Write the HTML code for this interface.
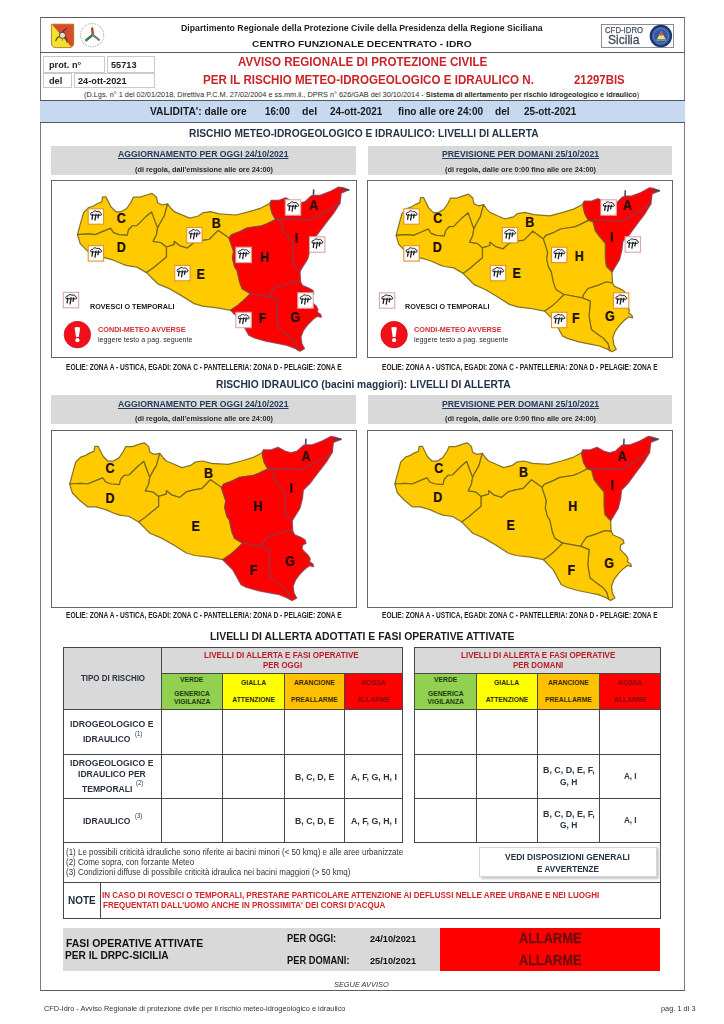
<!DOCTYPE html>
<html><head><meta charset="utf-8"><style>
html,body{margin:0;padding:0;background:#fff;}
body{width:724px;height:1024px;position:relative;overflow:hidden;font-family:"Liberation Sans",sans-serif;}
.a{position:absolute;}
.t{position:absolute;white-space:pre;transform-origin:0 0;}
</style></head><body>
<div class="a" style="left:40.00px;top:17.00px;width:645.00px;height:974.00px;border:1px solid #5c5c5c;box-sizing:border-box;border-left-color:#7a7a7a;border-right-color:#7a7a7a;"></div>
<div class="a" style="left:40.00px;top:52.00px;width:645.00px;height:1.00px;background:#5a5a5a;"></div>
<div class="t" style="left:181.10px;top:24.49px;font-size:9.10px;line-height:9.10px;color:#222;font-weight:700;transform:scaleX(0.9617);">Dipartimento Regionale della Protezione Civile della Presidenza della Regione Siciliana</div>
<div class="t" style="left:252.20px;top:38.82px;font-size:9.78px;line-height:9.78px;color:#1c1c1c;font-weight:700;transform:scaleX(1.0481);">CENTRO FUNZIONALE DECENTRATO - IDRO</div>
<div class="a" style="left:600.80px;top:23.90px;width:73.20px;height:23.80px;background:#fff;border:1px solid #8a8f96;box-sizing:border-box;"></div>
<div class="t" style="left:605.20px;top:25.95px;font-size:8.32px;line-height:8.32px;color:#4a5566;font-weight:400;transform:scaleX(0.9369);-webkit-text-stroke:0.25px #4a5566;">CFD-IDRO</div>
<div class="t" style="left:607.50px;top:33.92px;font-size:12.38px;line-height:12.38px;color:#3f4c5e;font-weight:400;transform:scaleX(0.9741);-webkit-text-stroke:0.3px #3f4c5e;">Sicilia</div>
<div class="a" style="left:43.20px;top:56.30px;width:61.60px;height:16.30px;border:1px solid #c9c9c9;box-sizing:border-box;"></div>
<div class="a" style="left:106.60px;top:56.30px;width:48.00px;height:16.30px;border:1px solid #c9c9c9;box-sizing:border-box;"></div>
<div class="a" style="left:43.20px;top:73.40px;width:29.00px;height:14.80px;border:1px solid #c9c9c9;box-sizing:border-box;"></div>
<div class="a" style="left:73.60px;top:73.40px;width:81.00px;height:14.80px;border:1px solid #c9c9c9;box-sizing:border-box;"></div>
<div class="t" style="left:49.00px;top:59.90px;font-size:9.57px;line-height:9.57px;color:#222;font-weight:700;transform:scaleX(0.9615);">prot. n°</div>
<div class="t" style="left:111.30px;top:59.90px;font-size:9.57px;line-height:9.57px;color:#222;font-weight:700;transform:scaleX(0.9615);">55713</div>
<div class="t" style="left:49.00px;top:76.00px;font-size:9.57px;line-height:9.57px;color:#222;font-weight:700;transform:scaleX(0.9615);">del</div>
<div class="t" style="left:78.10px;top:76.00px;font-size:9.57px;line-height:9.57px;color:#222;font-weight:700;transform:scaleX(0.9615);">24-ott-2021</div>
<div class="t" style="left:237.70px;top:56.97px;font-size:11.96px;line-height:11.96px;color:#cc2229;font-weight:700;transform:scaleX(0.9710);">AVVISO REGIONALE DI PROTEZIONE CIVILE</div>
<div class="t" style="left:202.70px;top:74.87px;font-size:11.96px;line-height:11.96px;color:#cc2229;font-weight:700;transform:scaleX(0.9700);">PER IL RISCHIO METEO-IDROGEOLOGICO E IDRAULICO N.</div>
<div class="t" style="left:573.70px;top:74.96px;font-size:11.86px;line-height:11.86px;color:#cc2229;font-weight:700;transform:scaleX(0.9614);">21297BIS</div>
<div class="t" style="left:84px;top:91.38px;font-size:7.34px;line-height:7.34px;color:#2a2a2a;">(D.Lgs. n° 1 del 02/01/2018, Direttiva P.C.M. 27/02/2004 e ss.mm.ii., DPRS n° 626/GAB del 30/10/2014 - <b>Sistema di allertamento per rischio idrogeologico e idraulico</b>)</div>
<div class="a" style="left:40.00px;top:100.20px;width:644.50px;height:22.20px;background:#c6d9f1;"></div>
<div class="a" style="left:40.00px;top:100.00px;width:645.00px;height:1.00px;background:#505862;"></div>
<div class="a" style="left:40.00px;top:122.00px;width:645.00px;height:1.00px;background:#505862;"></div>
<div class="t" style="left:150.00px;top:106.22px;font-size:10.61px;line-height:10.61px;color:#1a1a1a;font-weight:700;transform:scaleX(0.9673);">VALIDITA&#x27;: dalle ore</div>
<div class="t" style="left:265.20px;top:106.22px;font-size:10.61px;line-height:10.61px;color:#1a1a1a;font-weight:700;transform:scaleX(0.9176);">16:00</div>
<div class="t" style="left:301.60px;top:106.22px;font-size:10.61px;line-height:10.61px;color:#1a1a1a;font-weight:700;transform:scaleX(0.9916);">del</div>
<div class="t" style="left:329.70px;top:106.22px;font-size:10.61px;line-height:10.61px;color:#1a1a1a;font-weight:700;transform:scaleX(0.9320);">24-ott-2021</div>
<div class="t" style="left:397.80px;top:106.22px;font-size:10.61px;line-height:10.61px;color:#1a1a1a;font-weight:700;transform:scaleX(0.9496);">fino alle ore 24:00</div>
<div class="t" style="left:494.80px;top:106.22px;font-size:10.61px;line-height:10.61px;color:#1a1a1a;font-weight:700;transform:scaleX(0.9590);">del</div>
<div class="t" style="left:523.80px;top:106.22px;font-size:10.61px;line-height:10.61px;color:#1a1a1a;font-weight:700;transform:scaleX(0.9320);">25-ott-2021</div>
<div class="t" style="left:189.00px;top:127.92px;font-size:10.61px;line-height:10.61px;color:#23344a;font-weight:700;transform:scaleX(0.9627);">RISCHIO METEO-IDROGEOLOGICO E IDRAULICO: LIVELLI DI ALLERTA</div>
<div class="a" style="left:51.30px;top:145.60px;width:304.40px;height:29.20px;background:#d9d9d9;"></div>
<div class="a" style="left:367.60px;top:145.60px;width:304.80px;height:29.20px;background:#d9d9d9;"></div>
<div class="t" style="left:118.20px;top:150.27px;font-size:9.36px;line-height:9.36px;color:#243a5a;font-weight:700;transform:scaleX(0.9311);text-decoration:underline;">AGGIORNAMENTO PER OGGI 24/10/2021</div>
<div class="t" style="left:135.00px;top:166.47px;font-size:7.59px;line-height:7.59px;color:#2b2b2b;font-weight:700;transform:scaleX(0.9654);">(di regola, dall&#x27;emissione alle ore 24:00)</div>
<div class="t" style="left:441.80px;top:150.27px;font-size:9.36px;line-height:9.36px;color:#243a5a;font-weight:700;transform:scaleX(0.9310);text-decoration:underline;">PREVISIONE PER DOMANI 25/10/2021</div>
<div class="t" style="left:444.80px;top:166.47px;font-size:7.59px;line-height:7.59px;color:#2b2b2b;font-weight:700;transform:scaleX(0.9718);">(di regola, dalle ore 0:00 fino alle ore 24:00)</div>
<div class="a" style="left:51.30px;top:395.00px;width:304.40px;height:29.20px;background:#d9d9d9;"></div>
<div class="a" style="left:367.60px;top:395.00px;width:304.80px;height:29.20px;background:#d9d9d9;"></div>
<div class="t" style="left:118.20px;top:399.67px;font-size:9.36px;line-height:9.36px;color:#243a5a;font-weight:700;transform:scaleX(0.9311);text-decoration:underline;">AGGIORNAMENTO PER OGGI 24/10/2021</div>
<div class="t" style="left:135.00px;top:414.87px;font-size:7.59px;line-height:7.59px;color:#2b2b2b;font-weight:700;transform:scaleX(0.9654);">(di regola, dall&#x27;emissione alle ore 24:00)</div>
<div class="t" style="left:441.80px;top:399.67px;font-size:9.36px;line-height:9.36px;color:#243a5a;font-weight:700;transform:scaleX(0.9310);text-decoration:underline;">PREVISIONE PER DOMANI 25/10/2021</div>
<div class="t" style="left:444.80px;top:414.87px;font-size:7.59px;line-height:7.59px;color:#2b2b2b;font-weight:700;transform:scaleX(0.9718);">(di regola, dalle ore 0:00 fino alle ore 24:00)</div>
<div class="t" style="left:216.10px;top:379.22px;font-size:10.61px;line-height:10.61px;color:#23344a;font-weight:700;transform:scaleX(0.9654);">RISCHIO IDRAULICO (bacini maggiori): LIVELLI DI ALLERTA</div>
<div class="t" style="left:210.00px;top:631.02px;font-size:10.61px;line-height:10.61px;color:#1c1c1c;font-weight:700;transform:scaleX(0.9805);">LIVELLI DI ALLERTA ADOTTATI E FASI OPERATIVE ATTIVATE</div>
<svg class="a" style="left:0;top:0" width="724" height="1024" viewBox="0 0 724 1024">
<g transform="translate(7.8,-249.4)">
<path d="M69.7,484.0 L72.5,473.6 L74.1,467.8 L75.8,462.0 L80.7,457.1 L85.7,455.4 L89.9,452.9 L94.0,451.3 L94.8,446.3 L98.1,446.3 L100.6,451.3 L103.1,456.2 L108.1,461.2 L113.1,461.2 L118.9,457.9 L123.0,452.1 L125.0,448.0 L125.5,446.6 L132.2,446.6 L138.8,444.4 L144.3,442.8 L148.7,446.6 L149.8,452.2 L154.3,454.4 L159.8,453.3 L156.5,465.4 L152.0,473.1 L149.8,477.6 L146.5,469.0 L143.8,461.5 L137.7,466.5 L132.2,472.0 L129.1,475.0 L124.4,475.4 L120.8,479.2 L119.4,484.7 L111.1,484.0 L105.6,482.0 L102.8,477.8 L95.9,480.6 L87.6,484.0 L80.7,483.3 L69.7,484.0Z" fill="#ffcb00" stroke="#6f5f18" stroke-opacity="0.85" stroke-width="1.25" stroke-linejoin="round"/>
<path d="M69.7,484.0 L80.7,483.3 L87.6,484.0 L95.9,480.6 L102.8,477.8 L105.6,482.0 L111.1,484.0 L119.4,484.7 L120.8,479.2 L124.4,475.4 L129.1,475.0 L132.2,472.0 L137.7,466.5 L143.8,461.5 L146.5,469.0 L149.8,477.6 L148.7,484.2 L145.4,490.8 L153.1,491.9 L158.7,496.4 L158.7,506.3 L152.0,511.8 L145.4,517.3 L138.7,522.0 L129.1,516.5 L119.4,515.1 L115.2,513.7 L105.6,509.6 L95.9,506.8 L87.6,506.8 L79.3,500.0 L72.4,493.0 L69.7,484.0Z" fill="#ffcb00" stroke="#6f5f18" stroke-opacity="0.85" stroke-width="1.25" stroke-linejoin="round"/>
<path d="M159.8,453.3 L163.1,457.7 L166.4,461.0 L174.1,464.3 L181.9,467.6 L190.7,465.4 L195.0,462.2 L202.7,461.0 L211.6,463.3 L228.1,464.4 L241.4,461.0 L252.5,457.7 L261.3,453.3 L263.7,449.9 L262.5,454.9 L264.3,462.3 L268.0,469.0 L258.7,473.5 L253.6,475.4 L239.2,477.6 L232.6,480.9 L223.7,484.3 L221.5,487.6 L210.5,479.8 L201.6,488.7 L195.1,489.7 L186.3,491.9 L179.7,497.5 L172.0,495.2 L166.4,490.8 L166.4,494.1 L158.7,496.4 L153.1,491.9 L145.4,490.8 L148.7,484.2 L149.8,477.6 L152.0,473.1 L156.5,465.4 L159.8,453.3Z" fill="#ffcb00" stroke="#6f5f18" stroke-opacity="0.85" stroke-width="1.25" stroke-linejoin="round"/>
<path d="M158.7,496.4 L166.4,494.1 L166.4,490.8 L172.0,495.2 L179.7,497.5 L186.3,491.9 L195.1,489.7 L201.6,488.7 L210.5,479.8 L221.5,487.6 L223.7,494.2 L225.9,500.8 L224.8,507.5 L227.0,516.3 L229.5,519.9 L232.0,531.5 L234.5,538.1 L242.8,543.1 L236.1,549.7 L230.3,554.7 L222.9,559.7 L209.6,557.2 L194.7,555.5 L186.4,553.0 L173.2,544.8 L161.5,538.1 L150.0,533.2 L145.6,528.9 L138.7,522.0 L145.4,517.3 L152.0,511.8 L158.7,506.3 L158.7,496.4Z" fill="#ffcb00" stroke="#6f5f18" stroke-opacity="0.85" stroke-width="1.25" stroke-linejoin="round"/>
<path d="M263.7,449.9 L271.2,449.9 L278.0,447.4 L284.8,451.1 L291.0,453.0 L297.3,451.1 L303.5,445.5 L306.6,444.9 L312.2,444.9 L322.1,441.2 L330.8,436.6 L335.0,437.2 L340.8,439.3 L333.3,442.4 L332.1,452.4 L324.6,457.3 L313.4,463.6 L302.2,469.8 L279.9,468.5 L268.0,469.0 L264.3,462.3 L262.5,454.9 L263.7,449.9Z" fill="#ff0000" stroke="#a03040" stroke-opacity="0.85" stroke-width="1.5" stroke-linejoin="round"/>
<path d="M268.0,469.0 L279.9,468.5 L302.2,469.8 L313.4,463.6 L324.6,457.3 L332.1,452.4 L325.9,462.3 L317.2,473.5 L309.7,483.5 L303.2,490.0 L302.3,498.3 L299.8,508.2 L294.6,516.5 L292.1,520.7 L286.2,514.9 L285.2,506.6 L285.2,492.0 L279.9,486.0 L274.9,479.7 L272.4,470.5 L268.0,469.0Z" fill="#ff0000" stroke="#a03040" stroke-opacity="0.85" stroke-width="1.5" stroke-linejoin="round"/>
<path d="M221.5,487.6 L223.7,484.3 L232.6,480.9 L239.2,477.6 L253.6,475.4 L258.7,473.5 L268.0,469.0 L272.4,470.5 L274.9,479.7 L279.9,486.0 L285.2,492.0 L285.2,506.6 L286.2,514.9 L292.1,520.7 L292.6,531.4 L286.2,530.6 L277.6,533.9 L267.3,537.2 L263.1,543.0 L261.5,546.4 L242.8,543.1 L234.5,538.1 L232.0,531.5 L229.5,519.9 L227.0,516.3 L224.8,507.5 L225.9,500.8 L223.7,494.2 L221.5,487.6Z" fill="#ff0000" stroke="#a03040" stroke-opacity="0.85" stroke-width="1.5" stroke-linejoin="round"/>
<path d="M292.6,531.4 L294.7,535.0 L300.7,537.5 L304.9,539.9 L305.9,543.3 L302.5,544.9 L301.9,549.1 L304.9,552.4 L308.4,555.7 L310.1,559.0 L309.3,561.5 L312.7,564.0 L313.5,566.5 L309.3,565.6 L304.9,568.9 L299.9,573.9 L295.5,579.7 L293.0,586.3 L293.9,593.0 L296.5,598.0 L292.1,600.4 L290.0,599.3 L287.9,592.1 L283.6,587.2 L277.6,583.0 L270.8,578.0 L268.5,565.0 L269.8,549.7 L261.5,546.4 L263.1,543.0 L267.3,537.2 L277.6,533.9 L286.2,530.6 L292.6,531.4Z" fill="#ff0000" stroke="#a03040" stroke-opacity="0.85" stroke-width="1.5" stroke-linejoin="round"/>
<path d="M242.8,543.1 L261.5,546.4 L269.8,549.7 L268.5,565.0 L270.8,578.0 L277.6,583.0 L283.6,587.2 L287.9,592.1 L290.0,599.3 L287.9,598.0 L279.4,594.6 L270.8,593.0 L258.0,590.5 L246.0,587.0 L241.1,584.5 L232.8,569.6 L222.9,559.7 L230.3,554.7 L236.1,549.7 L242.8,543.1Z" fill="#ff0000" stroke="#a03040" stroke-opacity="0.85" stroke-width="1.5" stroke-linejoin="round"/>
<path d="M305.6,445 L305.9,438.8" stroke="#3a4a66" stroke-width="1.6"/>
<path d="M333.5,438.6 L341.5,439.4" stroke="#3a4a66" stroke-width="1.6"/>
</g>
<text transform="translate(121.30,223.05) scale(0.9,1)" text-anchor="middle" font-family="Liberation Sans" font-weight="700" font-size="13.8" fill="#1e0e08" stroke="#1e0e08" stroke-width="0.25">C</text>
<text transform="translate(121.30,251.65) scale(0.9,1)" text-anchor="middle" font-family="Liberation Sans" font-weight="700" font-size="13.8" fill="#1e0e08" stroke="#1e0e08" stroke-width="0.25">D</text>
<text transform="translate(216.30,227.75) scale(0.9,1)" text-anchor="middle" font-family="Liberation Sans" font-weight="700" font-size="13.8" fill="#1e0e08" stroke="#1e0e08" stroke-width="0.25">B</text>
<text transform="translate(200.60,278.65) scale(0.9,1)" text-anchor="middle" font-family="Liberation Sans" font-weight="700" font-size="13.8" fill="#1e0e08" stroke="#1e0e08" stroke-width="0.25">E</text>
<text transform="translate(313.50,210.15) scale(0.9,1)" text-anchor="middle" font-family="Liberation Sans" font-weight="700" font-size="13.8" fill="#1e0e08" stroke="#1e0e08" stroke-width="0.25">A</text>
<text transform="translate(296.20,242.75) scale(0.9,1)" text-anchor="middle" font-family="Liberation Sans" font-weight="700" font-size="13.8" fill="#1e0e08" stroke="#1e0e08" stroke-width="0.25">I</text>
<text transform="translate(264.50,261.75) scale(0.9,1)" text-anchor="middle" font-family="Liberation Sans" font-weight="700" font-size="13.8" fill="#1e0e08" stroke="#1e0e08" stroke-width="0.25">H</text>
<text transform="translate(295.10,321.95) scale(0.9,1)" text-anchor="middle" font-family="Liberation Sans" font-weight="700" font-size="13.8" fill="#1e0e08" stroke="#1e0e08" stroke-width="0.25">G</text>
<text transform="translate(262.20,323.35) scale(0.9,1)" text-anchor="middle" font-family="Liberation Sans" font-weight="700" font-size="13.8" fill="#1e0e08" stroke="#1e0e08" stroke-width="0.25">F</text>
<g transform="translate(87.7,208.3)"><rect x="0.5" y="0.5" width="15.4" height="15.4" fill="#fff" stroke="#e69020" stroke-width="1.1"/> <path d="M3.2,6.8 C2.4,5 3.6,3.8 5,4.2 C5.6,2.4 8.2,2 9.2,3.4 C10.4,2.6 12.6,3.2 12.8,4.8 C14.2,5 14.4,6.8 13,7 Z" fill="#eceef0" stroke="#262626" stroke-width="1.0"/> <path d="M5,6.3 L4.3,11 M8.3,6 L7.3,11.9 M10.9,6 L10.3,9.5" stroke="#1e1e1e" stroke-width="1.3" stroke-linecap="round"/></g>
<g transform="translate(87.7,245.2)"><rect x="0.5" y="0.5" width="15.4" height="15.4" fill="#fff" stroke="#e69020" stroke-width="1.1"/> <path d="M3.2,6.8 C2.4,5 3.6,3.8 5,4.2 C5.6,2.4 8.2,2 9.2,3.4 C10.4,2.6 12.6,3.2 12.8,4.8 C14.2,5 14.4,6.8 13,7 Z" fill="#eceef0" stroke="#262626" stroke-width="1.0"/> <path d="M5,6.3 L4.3,11 M8.3,6 L7.3,11.9 M10.9,6 L10.3,9.5" stroke="#1e1e1e" stroke-width="1.3" stroke-linecap="round"/></g>
<g transform="translate(186.2,227.0)"><rect x="0.5" y="0.5" width="15.4" height="15.4" fill="#fff" stroke="#e69020" stroke-width="1.1"/> <path d="M3.2,6.8 C2.4,5 3.6,3.8 5,4.2 C5.6,2.4 8.2,2 9.2,3.4 C10.4,2.6 12.6,3.2 12.8,4.8 C14.2,5 14.4,6.8 13,7 Z" fill="#eceef0" stroke="#262626" stroke-width="1.0"/> <path d="M5,6.3 L4.3,11 M8.3,6 L7.3,11.9 M10.9,6 L10.3,9.5" stroke="#1e1e1e" stroke-width="1.3" stroke-linecap="round"/></g>
<g transform="translate(174.2,264.9)"><rect x="0.5" y="0.5" width="15.4" height="15.4" fill="#fff" stroke="#e69020" stroke-width="1.1"/> <path d="M3.2,6.8 C2.4,5 3.6,3.8 5,4.2 C5.6,2.4 8.2,2 9.2,3.4 C10.4,2.6 12.6,3.2 12.8,4.8 C14.2,5 14.4,6.8 13,7 Z" fill="#eceef0" stroke="#262626" stroke-width="1.0"/> <path d="M5,6.3 L4.3,11 M8.3,6 L7.3,11.9 M10.9,6 L10.3,9.5" stroke="#1e1e1e" stroke-width="1.3" stroke-linecap="round"/></g>
<g transform="translate(235.4,246.7)"><rect x="0.5" y="0.5" width="15.4" height="15.4" fill="#fff" stroke="#d8a8a8" stroke-width="1.1"/> <path d="M3.2,6.8 C2.4,5 3.6,3.8 5,4.2 C5.6,2.4 8.2,2 9.2,3.4 C10.4,2.6 12.6,3.2 12.8,4.8 C14.2,5 14.4,6.8 13,7 Z" fill="#eceef0" stroke="#262626" stroke-width="1.0"/> <path d="M5,6.3 L4.3,11 M8.3,6 L7.3,11.9 M10.9,6 L10.3,9.5" stroke="#1e1e1e" stroke-width="1.3" stroke-linecap="round"/></g>
<g transform="translate(284.8,199.3)"><rect x="0.5" y="0.5" width="15.4" height="15.4" fill="#fff" stroke="#d8a8a8" stroke-width="1.1"/> <path d="M3.2,6.8 C2.4,5 3.6,3.8 5,4.2 C5.6,2.4 8.2,2 9.2,3.4 C10.4,2.6 12.6,3.2 12.8,4.8 C14.2,5 14.4,6.8 13,7 Z" fill="#eceef0" stroke="#262626" stroke-width="1.0"/> <path d="M5,6.3 L4.3,11 M8.3,6 L7.3,11.9 M10.9,6 L10.3,9.5" stroke="#1e1e1e" stroke-width="1.3" stroke-linecap="round"/></g>
<g transform="translate(309.0,236.3)"><rect x="0.5" y="0.5" width="15.4" height="15.4" fill="#fff" stroke="#d8a8a8" stroke-width="1.1"/> <path d="M3.2,6.8 C2.4,5 3.6,3.8 5,4.2 C5.6,2.4 8.2,2 9.2,3.4 C10.4,2.6 12.6,3.2 12.8,4.8 C14.2,5 14.4,6.8 13,7 Z" fill="#eceef0" stroke="#262626" stroke-width="1.0"/> <path d="M5,6.3 L4.3,11 M8.3,6 L7.3,11.9 M10.9,6 L10.3,9.5" stroke="#1e1e1e" stroke-width="1.3" stroke-linecap="round"/></g>
<g transform="translate(297.3,292.3)"><rect x="0.5" y="0.5" width="15.4" height="15.4" fill="#fff" stroke="#d8a8a8" stroke-width="1.1"/> <path d="M3.2,6.8 C2.4,5 3.6,3.8 5,4.2 C5.6,2.4 8.2,2 9.2,3.4 C10.4,2.6 12.6,3.2 12.8,4.8 C14.2,5 14.4,6.8 13,7 Z" fill="#eceef0" stroke="#262626" stroke-width="1.0"/> <path d="M5,6.3 L4.3,11 M8.3,6 L7.3,11.9 M10.9,6 L10.3,9.5" stroke="#1e1e1e" stroke-width="1.3" stroke-linecap="round"/></g>
<g transform="translate(235.4,311.8)"><rect x="0.5" y="0.5" width="15.4" height="15.4" fill="#fff" stroke="#d8a8a8" stroke-width="1.1"/> <path d="M3.2,6.8 C2.4,5 3.6,3.8 5,4.2 C5.6,2.4 8.2,2 9.2,3.4 C10.4,2.6 12.6,3.2 12.8,4.8 C14.2,5 14.4,6.8 13,7 Z" fill="#eceef0" stroke="#262626" stroke-width="1.0"/> <path d="M5,6.3 L4.3,11 M8.3,6 L7.3,11.9 M10.9,6 L10.3,9.5" stroke="#1e1e1e" stroke-width="1.3" stroke-linecap="round"/></g>
<g transform="matrix(0.9704,0,0,1,328.5,-248.6)">
<path d="M69.7,484.0 L72.5,473.6 L74.1,467.8 L75.8,462.0 L80.7,457.1 L85.7,455.4 L89.9,452.9 L94.0,451.3 L94.8,446.3 L98.1,446.3 L100.6,451.3 L103.1,456.2 L108.1,461.2 L113.1,461.2 L118.9,457.9 L123.0,452.1 L125.0,448.0 L125.5,446.6 L132.2,446.6 L138.8,444.4 L144.3,442.8 L148.7,446.6 L149.8,452.2 L154.3,454.4 L159.8,453.3 L156.5,465.4 L152.0,473.1 L149.8,477.6 L146.5,469.0 L143.8,461.5 L137.7,466.5 L132.2,472.0 L129.1,475.0 L124.4,475.4 L120.8,479.2 L119.4,484.7 L111.1,484.0 L105.6,482.0 L102.8,477.8 L95.9,480.6 L87.6,484.0 L80.7,483.3 L69.7,484.0Z" fill="#ffcb00" stroke="#6f5f18" stroke-opacity="0.85" stroke-width="1.25" stroke-linejoin="round"/>
<path d="M69.7,484.0 L80.7,483.3 L87.6,484.0 L95.9,480.6 L102.8,477.8 L105.6,482.0 L111.1,484.0 L119.4,484.7 L120.8,479.2 L124.4,475.4 L129.1,475.0 L132.2,472.0 L137.7,466.5 L143.8,461.5 L146.5,469.0 L149.8,477.6 L148.7,484.2 L145.4,490.8 L153.1,491.9 L158.7,496.4 L158.7,506.3 L152.0,511.8 L145.4,517.3 L138.7,522.0 L129.1,516.5 L119.4,515.1 L115.2,513.7 L105.6,509.6 L95.9,506.8 L87.6,506.8 L79.3,500.0 L72.4,493.0 L69.7,484.0Z" fill="#ffcb00" stroke="#6f5f18" stroke-opacity="0.85" stroke-width="1.25" stroke-linejoin="round"/>
<path d="M159.8,453.3 L163.1,457.7 L166.4,461.0 L174.1,464.3 L181.9,467.6 L190.7,465.4 L195.0,462.2 L202.7,461.0 L211.6,463.3 L228.1,464.4 L241.4,461.0 L252.5,457.7 L261.3,453.3 L263.7,449.9 L262.5,454.9 L264.3,462.3 L268.0,469.0 L258.7,473.5 L253.6,475.4 L239.2,477.6 L232.6,480.9 L223.7,484.3 L221.5,487.6 L210.5,479.8 L201.6,488.7 L195.1,489.7 L186.3,491.9 L179.7,497.5 L172.0,495.2 L166.4,490.8 L166.4,494.1 L158.7,496.4 L153.1,491.9 L145.4,490.8 L148.7,484.2 L149.8,477.6 L152.0,473.1 L156.5,465.4 L159.8,453.3Z" fill="#ffcb00" stroke="#6f5f18" stroke-opacity="0.85" stroke-width="1.25" stroke-linejoin="round"/>
<path d="M158.7,496.4 L166.4,494.1 L166.4,490.8 L172.0,495.2 L179.7,497.5 L186.3,491.9 L195.1,489.7 L201.6,488.7 L210.5,479.8 L221.5,487.6 L223.7,494.2 L225.9,500.8 L224.8,507.5 L227.0,516.3 L229.5,519.9 L232.0,531.5 L234.5,538.1 L242.8,543.1 L236.1,549.7 L230.3,554.7 L222.9,559.7 L209.6,557.2 L194.7,555.5 L186.4,553.0 L173.2,544.8 L161.5,538.1 L150.0,533.2 L145.6,528.9 L138.7,522.0 L145.4,517.3 L152.0,511.8 L158.7,506.3 L158.7,496.4Z" fill="#ffcb00" stroke="#6f5f18" stroke-opacity="0.85" stroke-width="1.25" stroke-linejoin="round"/>
<path d="M263.7,449.9 L271.2,449.9 L278.0,447.4 L284.8,451.1 L291.0,453.0 L297.3,451.1 L303.5,445.5 L306.6,444.9 L312.2,444.9 L322.1,441.2 L330.8,436.6 L335.0,437.2 L340.8,439.3 L333.3,442.4 L332.1,452.4 L324.6,457.3 L313.4,463.6 L302.2,469.8 L279.9,468.5 L268.0,469.0 L264.3,462.3 L262.5,454.9 L263.7,449.9Z" fill="#ff0000" stroke="#a03040" stroke-opacity="0.85" stroke-width="1.5" stroke-linejoin="round"/>
<path d="M268.0,469.0 L279.9,468.5 L302.2,469.8 L313.4,463.6 L324.6,457.3 L332.1,452.4 L325.9,462.3 L317.2,473.5 L309.7,483.5 L303.2,490.0 L302.3,498.3 L299.8,508.2 L294.6,516.5 L292.1,520.7 L286.2,514.9 L285.2,506.6 L285.2,492.0 L279.9,486.0 L274.9,479.7 L272.4,470.5 L268.0,469.0Z" fill="#ff0000" stroke="#a03040" stroke-opacity="0.85" stroke-width="1.5" stroke-linejoin="round"/>
<path d="M221.5,487.6 L223.7,484.3 L232.6,480.9 L239.2,477.6 L253.6,475.4 L258.7,473.5 L268.0,469.0 L272.4,470.5 L274.9,479.7 L279.9,486.0 L285.2,492.0 L285.2,506.6 L286.2,514.9 L292.1,520.7 L292.6,531.4 L286.2,530.6 L277.6,533.9 L267.3,537.2 L263.1,543.0 L261.5,546.4 L242.8,543.1 L234.5,538.1 L232.0,531.5 L229.5,519.9 L227.0,516.3 L224.8,507.5 L225.9,500.8 L223.7,494.2 L221.5,487.6Z" fill="#ffcb00" stroke="#6f5f18" stroke-opacity="0.85" stroke-width="1.25" stroke-linejoin="round"/>
<path d="M292.6,531.4 L294.7,535.0 L300.7,537.5 L304.9,539.9 L305.9,543.3 L302.5,544.9 L301.9,549.1 L304.9,552.4 L308.4,555.7 L310.1,559.0 L309.3,561.5 L312.7,564.0 L313.5,566.5 L309.3,565.6 L304.9,568.9 L299.9,573.9 L295.5,579.7 L293.0,586.3 L293.9,593.0 L296.5,598.0 L292.1,600.4 L290.0,599.3 L287.9,592.1 L283.6,587.2 L277.6,583.0 L270.8,578.0 L268.5,565.0 L269.8,549.7 L261.5,546.4 L263.1,543.0 L267.3,537.2 L277.6,533.9 L286.2,530.6 L292.6,531.4Z" fill="#ffcb00" stroke="#6f5f18" stroke-opacity="0.85" stroke-width="1.25" stroke-linejoin="round"/>
<path d="M242.8,543.1 L261.5,546.4 L269.8,549.7 L268.5,565.0 L270.8,578.0 L277.6,583.0 L283.6,587.2 L287.9,592.1 L290.0,599.3 L287.9,598.0 L279.4,594.6 L270.8,593.0 L258.0,590.5 L246.0,587.0 L241.1,584.5 L232.8,569.6 L222.9,559.7 L230.3,554.7 L236.1,549.7 L242.8,543.1Z" fill="#ffcb00" stroke="#6f5f18" stroke-opacity="0.85" stroke-width="1.25" stroke-linejoin="round"/>
<path d="M305.6,445 L305.9,438.8" stroke="#3a4a66" stroke-width="1.6"/>
<path d="M333.5,438.6 L341.5,439.4" stroke="#3a4a66" stroke-width="1.6"/>
</g>
<text transform="translate(437.80,222.95) scale(0.9,1)" text-anchor="middle" font-family="Liberation Sans" font-weight="700" font-size="13.8" fill="#1e0e08" stroke="#1e0e08" stroke-width="0.25">C</text>
<text transform="translate(437.35,251.60) scale(0.9,1)" text-anchor="middle" font-family="Liberation Sans" font-weight="700" font-size="13.8" fill="#1e0e08" stroke="#1e0e08" stroke-width="0.25">D</text>
<text transform="translate(529.80,226.80) scale(0.9,1)" text-anchor="middle" font-family="Liberation Sans" font-weight="700" font-size="13.8" fill="#1e0e08" stroke="#1e0e08" stroke-width="0.25">B</text>
<text transform="translate(516.60,278.40) scale(0.9,1)" text-anchor="middle" font-family="Liberation Sans" font-weight="700" font-size="13.8" fill="#1e0e08" stroke="#1e0e08" stroke-width="0.25">E</text>
<text transform="translate(627.25,209.85) scale(0.9,1)" text-anchor="middle" font-family="Liberation Sans" font-weight="700" font-size="13.8" fill="#1e0e08" stroke="#1e0e08" stroke-width="0.25">A</text>
<text transform="translate(611.55,241.80) scale(0.9,1)" text-anchor="middle" font-family="Liberation Sans" font-weight="700" font-size="13.8" fill="#1e0e08" stroke="#1e0e08" stroke-width="0.25">I</text>
<text transform="translate(579.20,260.95) scale(0.9,1)" text-anchor="middle" font-family="Liberation Sans" font-weight="700" font-size="13.8" fill="#1e0e08" stroke="#1e0e08" stroke-width="0.25">H</text>
<text transform="translate(609.90,321.00) scale(0.9,1)" text-anchor="middle" font-family="Liberation Sans" font-weight="700" font-size="13.8" fill="#1e0e08" stroke="#1e0e08" stroke-width="0.25">G</text>
<text transform="translate(575.90,322.80) scale(0.9,1)" text-anchor="middle" font-family="Liberation Sans" font-weight="700" font-size="13.8" fill="#1e0e08" stroke="#1e0e08" stroke-width="0.25">F</text>
<g transform="translate(403.3,208.3)"><rect x="0.5" y="0.5" width="15.4" height="15.4" fill="#fff" stroke="#e69020" stroke-width="1.1"/> <path d="M3.2,6.8 C2.4,5 3.6,3.8 5,4.2 C5.6,2.4 8.2,2 9.2,3.4 C10.4,2.6 12.6,3.2 12.8,4.8 C14.2,5 14.4,6.8 13,7 Z" fill="#eceef0" stroke="#262626" stroke-width="1.0"/> <path d="M5,6.3 L4.3,11 M8.3,6 L7.3,11.9 M10.9,6 L10.3,9.5" stroke="#1e1e1e" stroke-width="1.3" stroke-linecap="round"/></g>
<g transform="translate(403.3,245.2)"><rect x="0.5" y="0.5" width="15.4" height="15.4" fill="#fff" stroke="#e69020" stroke-width="1.1"/> <path d="M3.2,6.8 C2.4,5 3.6,3.8 5,4.2 C5.6,2.4 8.2,2 9.2,3.4 C10.4,2.6 12.6,3.2 12.8,4.8 C14.2,5 14.4,6.8 13,7 Z" fill="#eceef0" stroke="#262626" stroke-width="1.0"/> <path d="M5,6.3 L4.3,11 M8.3,6 L7.3,11.9 M10.9,6 L10.3,9.5" stroke="#1e1e1e" stroke-width="1.3" stroke-linecap="round"/></g>
<g transform="translate(501.8,227.0)"><rect x="0.5" y="0.5" width="15.4" height="15.4" fill="#fff" stroke="#e69020" stroke-width="1.1"/> <path d="M3.2,6.8 C2.4,5 3.6,3.8 5,4.2 C5.6,2.4 8.2,2 9.2,3.4 C10.4,2.6 12.6,3.2 12.8,4.8 C14.2,5 14.4,6.8 13,7 Z" fill="#eceef0" stroke="#262626" stroke-width="1.0"/> <path d="M5,6.3 L4.3,11 M8.3,6 L7.3,11.9 M10.9,6 L10.3,9.5" stroke="#1e1e1e" stroke-width="1.3" stroke-linecap="round"/></g>
<g transform="translate(489.8,264.9)"><rect x="0.5" y="0.5" width="15.4" height="15.4" fill="#fff" stroke="#e69020" stroke-width="1.1"/> <path d="M3.2,6.8 C2.4,5 3.6,3.8 5,4.2 C5.6,2.4 8.2,2 9.2,3.4 C10.4,2.6 12.6,3.2 12.8,4.8 C14.2,5 14.4,6.8 13,7 Z" fill="#eceef0" stroke="#262626" stroke-width="1.0"/> <path d="M5,6.3 L4.3,11 M8.3,6 L7.3,11.9 M10.9,6 L10.3,9.5" stroke="#1e1e1e" stroke-width="1.3" stroke-linecap="round"/></g>
<g transform="translate(551.0,246.7)"><rect x="0.5" y="0.5" width="15.4" height="15.4" fill="#fff" stroke="#e69020" stroke-width="1.1"/> <path d="M3.2,6.8 C2.4,5 3.6,3.8 5,4.2 C5.6,2.4 8.2,2 9.2,3.4 C10.4,2.6 12.6,3.2 12.8,4.8 C14.2,5 14.4,6.8 13,7 Z" fill="#eceef0" stroke="#262626" stroke-width="1.0"/> <path d="M5,6.3 L4.3,11 M8.3,6 L7.3,11.9 M10.9,6 L10.3,9.5" stroke="#1e1e1e" stroke-width="1.3" stroke-linecap="round"/></g>
<g transform="translate(600.4,199.3)"><rect x="0.5" y="0.5" width="15.4" height="15.4" fill="#fff" stroke="#d8a8a8" stroke-width="1.1"/> <path d="M3.2,6.8 C2.4,5 3.6,3.8 5,4.2 C5.6,2.4 8.2,2 9.2,3.4 C10.4,2.6 12.6,3.2 12.8,4.8 C14.2,5 14.4,6.8 13,7 Z" fill="#eceef0" stroke="#262626" stroke-width="1.0"/> <path d="M5,6.3 L4.3,11 M8.3,6 L7.3,11.9 M10.9,6 L10.3,9.5" stroke="#1e1e1e" stroke-width="1.3" stroke-linecap="round"/></g>
<g transform="translate(624.6,236.3)"><rect x="0.5" y="0.5" width="15.4" height="15.4" fill="#fff" stroke="#d8a8a8" stroke-width="1.1"/> <path d="M3.2,6.8 C2.4,5 3.6,3.8 5,4.2 C5.6,2.4 8.2,2 9.2,3.4 C10.4,2.6 12.6,3.2 12.8,4.8 C14.2,5 14.4,6.8 13,7 Z" fill="#eceef0" stroke="#262626" stroke-width="1.0"/> <path d="M5,6.3 L4.3,11 M8.3,6 L7.3,11.9 M10.9,6 L10.3,9.5" stroke="#1e1e1e" stroke-width="1.3" stroke-linecap="round"/></g>
<g transform="translate(612.9,292.3)"><rect x="0.5" y="0.5" width="15.4" height="15.4" fill="#fff" stroke="#e69020" stroke-width="1.1"/> <path d="M3.2,6.8 C2.4,5 3.6,3.8 5,4.2 C5.6,2.4 8.2,2 9.2,3.4 C10.4,2.6 12.6,3.2 12.8,4.8 C14.2,5 14.4,6.8 13,7 Z" fill="#eceef0" stroke="#262626" stroke-width="1.0"/> <path d="M5,6.3 L4.3,11 M8.3,6 L7.3,11.9 M10.9,6 L10.3,9.5" stroke="#1e1e1e" stroke-width="1.3" stroke-linecap="round"/></g>
<g transform="translate(551.0,311.8)"><rect x="0.5" y="0.5" width="15.4" height="15.4" fill="#fff" stroke="#e69020" stroke-width="1.1"/> <path d="M3.2,6.8 C2.4,5 3.6,3.8 5,4.2 C5.6,2.4 8.2,2 9.2,3.4 C10.4,2.6 12.6,3.2 12.8,4.8 C14.2,5 14.4,6.8 13,7 Z" fill="#eceef0" stroke="#262626" stroke-width="1.0"/> <path d="M5,6.3 L4.3,11 M8.3,6 L7.3,11.9 M10.9,6 L10.3,9.5" stroke="#1e1e1e" stroke-width="1.3" stroke-linecap="round"/></g>
<g transform="translate(0,0)">
<path d="M69.7,484.0 L72.5,473.6 L74.1,467.8 L75.8,462.0 L80.7,457.1 L85.7,455.4 L89.9,452.9 L94.0,451.3 L94.8,446.3 L98.1,446.3 L100.6,451.3 L103.1,456.2 L108.1,461.2 L113.1,461.2 L118.9,457.9 L123.0,452.1 L125.0,448.0 L125.5,446.6 L132.2,446.6 L138.8,444.4 L144.3,442.8 L148.7,446.6 L149.8,452.2 L154.3,454.4 L159.8,453.3 L156.5,465.4 L152.0,473.1 L149.8,477.6 L146.5,469.0 L143.8,461.5 L137.7,466.5 L132.2,472.0 L129.1,475.0 L124.4,475.4 L120.8,479.2 L119.4,484.7 L111.1,484.0 L105.6,482.0 L102.8,477.8 L95.9,480.6 L87.6,484.0 L80.7,483.3 L69.7,484.0Z" fill="#ffcb00" stroke="#6f5f18" stroke-opacity="0.85" stroke-width="1.25" stroke-linejoin="round"/>
<path d="M69.7,484.0 L80.7,483.3 L87.6,484.0 L95.9,480.6 L102.8,477.8 L105.6,482.0 L111.1,484.0 L119.4,484.7 L120.8,479.2 L124.4,475.4 L129.1,475.0 L132.2,472.0 L137.7,466.5 L143.8,461.5 L146.5,469.0 L149.8,477.6 L148.7,484.2 L145.4,490.8 L153.1,491.9 L158.7,496.4 L158.7,506.3 L152.0,511.8 L145.4,517.3 L138.7,522.0 L129.1,516.5 L119.4,515.1 L115.2,513.7 L105.6,509.6 L95.9,506.8 L87.6,506.8 L79.3,500.0 L72.4,493.0 L69.7,484.0Z" fill="#ffcb00" stroke="#6f5f18" stroke-opacity="0.85" stroke-width="1.25" stroke-linejoin="round"/>
<path d="M159.8,453.3 L163.1,457.7 L166.4,461.0 L174.1,464.3 L181.9,467.6 L190.7,465.4 L195.0,462.2 L202.7,461.0 L211.6,463.3 L228.1,464.4 L241.4,461.0 L252.5,457.7 L261.3,453.3 L263.7,449.9 L262.5,454.9 L264.3,462.3 L268.0,469.0 L258.7,473.5 L253.6,475.4 L239.2,477.6 L232.6,480.9 L223.7,484.3 L221.5,487.6 L210.5,479.8 L201.6,488.7 L195.1,489.7 L186.3,491.9 L179.7,497.5 L172.0,495.2 L166.4,490.8 L166.4,494.1 L158.7,496.4 L153.1,491.9 L145.4,490.8 L148.7,484.2 L149.8,477.6 L152.0,473.1 L156.5,465.4 L159.8,453.3Z" fill="#ffcb00" stroke="#6f5f18" stroke-opacity="0.85" stroke-width="1.25" stroke-linejoin="round"/>
<path d="M158.7,496.4 L166.4,494.1 L166.4,490.8 L172.0,495.2 L179.7,497.5 L186.3,491.9 L195.1,489.7 L201.6,488.7 L210.5,479.8 L221.5,487.6 L223.7,494.2 L225.9,500.8 L224.8,507.5 L227.0,516.3 L229.5,519.9 L232.0,531.5 L234.5,538.1 L242.8,543.1 L236.1,549.7 L230.3,554.7 L222.9,559.7 L209.6,557.2 L194.7,555.5 L186.4,553.0 L173.2,544.8 L161.5,538.1 L150.0,533.2 L145.6,528.9 L138.7,522.0 L145.4,517.3 L152.0,511.8 L158.7,506.3 L158.7,496.4Z" fill="#ffcb00" stroke="#6f5f18" stroke-opacity="0.85" stroke-width="1.25" stroke-linejoin="round"/>
<path d="M263.7,449.9 L271.2,449.9 L278.0,447.4 L284.8,451.1 L291.0,453.0 L297.3,451.1 L303.5,445.5 L306.6,444.9 L312.2,444.9 L322.1,441.2 L330.8,436.6 L335.0,437.2 L340.8,439.3 L333.3,442.4 L332.1,452.4 L324.6,457.3 L313.4,463.6 L302.2,469.8 L279.9,468.5 L268.0,469.0 L264.3,462.3 L262.5,454.9 L263.7,449.9Z" fill="#ff0000" stroke="#a03040" stroke-opacity="0.85" stroke-width="1.5" stroke-linejoin="round"/>
<path d="M268.0,469.0 L279.9,468.5 L302.2,469.8 L313.4,463.6 L324.6,457.3 L332.1,452.4 L325.9,462.3 L317.2,473.5 L309.7,483.5 L303.2,490.0 L302.3,498.3 L299.8,508.2 L294.6,516.5 L292.1,520.7 L286.2,514.9 L285.2,506.6 L285.2,492.0 L279.9,486.0 L274.9,479.7 L272.4,470.5 L268.0,469.0Z" fill="#ff0000" stroke="#a03040" stroke-opacity="0.85" stroke-width="1.5" stroke-linejoin="round"/>
<path d="M221.5,487.6 L223.7,484.3 L232.6,480.9 L239.2,477.6 L253.6,475.4 L258.7,473.5 L268.0,469.0 L272.4,470.5 L274.9,479.7 L279.9,486.0 L285.2,492.0 L285.2,506.6 L286.2,514.9 L292.1,520.7 L292.6,531.4 L286.2,530.6 L277.6,533.9 L267.3,537.2 L263.1,543.0 L261.5,546.4 L242.8,543.1 L234.5,538.1 L232.0,531.5 L229.5,519.9 L227.0,516.3 L224.8,507.5 L225.9,500.8 L223.7,494.2 L221.5,487.6Z" fill="#ff0000" stroke="#a03040" stroke-opacity="0.85" stroke-width="1.5" stroke-linejoin="round"/>
<path d="M292.6,531.4 L294.7,535.0 L300.7,537.5 L304.9,539.9 L305.9,543.3 L302.5,544.9 L301.9,549.1 L304.9,552.4 L308.4,555.7 L310.1,559.0 L309.3,561.5 L312.7,564.0 L313.5,566.5 L309.3,565.6 L304.9,568.9 L299.9,573.9 L295.5,579.7 L293.0,586.3 L293.9,593.0 L296.5,598.0 L292.1,600.4 L290.0,599.3 L287.9,592.1 L283.6,587.2 L277.6,583.0 L270.8,578.0 L268.5,565.0 L269.8,549.7 L261.5,546.4 L263.1,543.0 L267.3,537.2 L277.6,533.9 L286.2,530.6 L292.6,531.4Z" fill="#ff0000" stroke="#a03040" stroke-opacity="0.85" stroke-width="1.5" stroke-linejoin="round"/>
<path d="M242.8,543.1 L261.5,546.4 L269.8,549.7 L268.5,565.0 L270.8,578.0 L277.6,583.0 L283.6,587.2 L287.9,592.1 L290.0,599.3 L287.9,598.0 L279.4,594.6 L270.8,593.0 L258.0,590.5 L246.0,587.0 L241.1,584.5 L232.8,569.6 L222.9,559.7 L230.3,554.7 L236.1,549.7 L242.8,543.1Z" fill="#ff0000" stroke="#a03040" stroke-opacity="0.85" stroke-width="1.5" stroke-linejoin="round"/>
<path d="M305.6,445 L305.9,438.8" stroke="#3a4a66" stroke-width="1.6"/>
<path d="M333.5,438.6 L341.5,439.4" stroke="#3a4a66" stroke-width="1.6"/>
</g>
<text transform="translate(110.00,473.45) scale(0.9,1)" text-anchor="middle" font-family="Liberation Sans" font-weight="700" font-size="13.8" fill="#1e0e08" stroke="#1e0e08" stroke-width="0.25">C</text>
<text transform="translate(208.50,478.15) scale(0.9,1)" text-anchor="middle" font-family="Liberation Sans" font-weight="700" font-size="13.8" fill="#1e0e08" stroke="#1e0e08" stroke-width="0.25">B</text>
<text transform="translate(110.00,502.55) scale(0.9,1)" text-anchor="middle" font-family="Liberation Sans" font-weight="700" font-size="13.8" fill="#1e0e08" stroke="#1e0e08" stroke-width="0.25">D</text>
<text transform="translate(195.60,531.25) scale(0.9,1)" text-anchor="middle" font-family="Liberation Sans" font-weight="700" font-size="13.8" fill="#1e0e08" stroke="#1e0e08" stroke-width="0.25">E</text>
<text transform="translate(257.70,511.15) scale(0.9,1)" text-anchor="middle" font-family="Liberation Sans" font-weight="700" font-size="13.8" fill="#1e0e08" stroke="#1e0e08" stroke-width="0.25">H</text>
<text transform="translate(305.70,460.55) scale(0.9,1)" text-anchor="middle" font-family="Liberation Sans" font-weight="700" font-size="13.8" fill="#1e0e08" stroke="#1e0e08" stroke-width="0.25">A</text>
<text transform="translate(291.10,493.15) scale(0.9,1)" text-anchor="middle" font-family="Liberation Sans" font-weight="700" font-size="13.8" fill="#1e0e08" stroke="#1e0e08" stroke-width="0.25">I</text>
<text transform="translate(253.40,575.35) scale(0.9,1)" text-anchor="middle" font-family="Liberation Sans" font-weight="700" font-size="13.8" fill="#1e0e08" stroke="#1e0e08" stroke-width="0.25">F</text>
<text transform="translate(289.80,565.95) scale(0.9,1)" text-anchor="middle" font-family="Liberation Sans" font-weight="700" font-size="13.8" fill="#1e0e08" stroke="#1e0e08" stroke-width="0.25">G</text>
<g transform="matrix(0.9704,0,0,1,327.2,0)">
<path d="M69.7,484.0 L72.5,473.6 L74.1,467.8 L75.8,462.0 L80.7,457.1 L85.7,455.4 L89.9,452.9 L94.0,451.3 L94.8,446.3 L98.1,446.3 L100.6,451.3 L103.1,456.2 L108.1,461.2 L113.1,461.2 L118.9,457.9 L123.0,452.1 L125.0,448.0 L125.5,446.6 L132.2,446.6 L138.8,444.4 L144.3,442.8 L148.7,446.6 L149.8,452.2 L154.3,454.4 L159.8,453.3 L156.5,465.4 L152.0,473.1 L149.8,477.6 L146.5,469.0 L143.8,461.5 L137.7,466.5 L132.2,472.0 L129.1,475.0 L124.4,475.4 L120.8,479.2 L119.4,484.7 L111.1,484.0 L105.6,482.0 L102.8,477.8 L95.9,480.6 L87.6,484.0 L80.7,483.3 L69.7,484.0Z" fill="#ffcb00" stroke="#6f5f18" stroke-opacity="0.85" stroke-width="1.25" stroke-linejoin="round"/>
<path d="M69.7,484.0 L80.7,483.3 L87.6,484.0 L95.9,480.6 L102.8,477.8 L105.6,482.0 L111.1,484.0 L119.4,484.7 L120.8,479.2 L124.4,475.4 L129.1,475.0 L132.2,472.0 L137.7,466.5 L143.8,461.5 L146.5,469.0 L149.8,477.6 L148.7,484.2 L145.4,490.8 L153.1,491.9 L158.7,496.4 L158.7,506.3 L152.0,511.8 L145.4,517.3 L138.7,522.0 L129.1,516.5 L119.4,515.1 L115.2,513.7 L105.6,509.6 L95.9,506.8 L87.6,506.8 L79.3,500.0 L72.4,493.0 L69.7,484.0Z" fill="#ffcb00" stroke="#6f5f18" stroke-opacity="0.85" stroke-width="1.25" stroke-linejoin="round"/>
<path d="M159.8,453.3 L163.1,457.7 L166.4,461.0 L174.1,464.3 L181.9,467.6 L190.7,465.4 L195.0,462.2 L202.7,461.0 L211.6,463.3 L228.1,464.4 L241.4,461.0 L252.5,457.7 L261.3,453.3 L263.7,449.9 L262.5,454.9 L264.3,462.3 L268.0,469.0 L258.7,473.5 L253.6,475.4 L239.2,477.6 L232.6,480.9 L223.7,484.3 L221.5,487.6 L210.5,479.8 L201.6,488.7 L195.1,489.7 L186.3,491.9 L179.7,497.5 L172.0,495.2 L166.4,490.8 L166.4,494.1 L158.7,496.4 L153.1,491.9 L145.4,490.8 L148.7,484.2 L149.8,477.6 L152.0,473.1 L156.5,465.4 L159.8,453.3Z" fill="#ffcb00" stroke="#6f5f18" stroke-opacity="0.85" stroke-width="1.25" stroke-linejoin="round"/>
<path d="M158.7,496.4 L166.4,494.1 L166.4,490.8 L172.0,495.2 L179.7,497.5 L186.3,491.9 L195.1,489.7 L201.6,488.7 L210.5,479.8 L221.5,487.6 L223.7,494.2 L225.9,500.8 L224.8,507.5 L227.0,516.3 L229.5,519.9 L232.0,531.5 L234.5,538.1 L242.8,543.1 L236.1,549.7 L230.3,554.7 L222.9,559.7 L209.6,557.2 L194.7,555.5 L186.4,553.0 L173.2,544.8 L161.5,538.1 L150.0,533.2 L145.6,528.9 L138.7,522.0 L145.4,517.3 L152.0,511.8 L158.7,506.3 L158.7,496.4Z" fill="#ffcb00" stroke="#6f5f18" stroke-opacity="0.85" stroke-width="1.25" stroke-linejoin="round"/>
<path d="M263.7,449.9 L271.2,449.9 L278.0,447.4 L284.8,451.1 L291.0,453.0 L297.3,451.1 L303.5,445.5 L306.6,444.9 L312.2,444.9 L322.1,441.2 L330.8,436.6 L335.0,437.2 L340.8,439.3 L333.3,442.4 L332.1,452.4 L324.6,457.3 L313.4,463.6 L302.2,469.8 L279.9,468.5 L268.0,469.0 L264.3,462.3 L262.5,454.9 L263.7,449.9Z" fill="#ff0000" stroke="#a03040" stroke-opacity="0.85" stroke-width="1.5" stroke-linejoin="round"/>
<path d="M268.0,469.0 L279.9,468.5 L302.2,469.8 L313.4,463.6 L324.6,457.3 L332.1,452.4 L325.9,462.3 L317.2,473.5 L309.7,483.5 L303.2,490.0 L302.3,498.3 L299.8,508.2 L294.6,516.5 L292.1,520.7 L286.2,514.9 L285.2,506.6 L285.2,492.0 L279.9,486.0 L274.9,479.7 L272.4,470.5 L268.0,469.0Z" fill="#ff0000" stroke="#a03040" stroke-opacity="0.85" stroke-width="1.5" stroke-linejoin="round"/>
<path d="M221.5,487.6 L223.7,484.3 L232.6,480.9 L239.2,477.6 L253.6,475.4 L258.7,473.5 L268.0,469.0 L272.4,470.5 L274.9,479.7 L279.9,486.0 L285.2,492.0 L285.2,506.6 L286.2,514.9 L292.1,520.7 L292.6,531.4 L286.2,530.6 L277.6,533.9 L267.3,537.2 L263.1,543.0 L261.5,546.4 L242.8,543.1 L234.5,538.1 L232.0,531.5 L229.5,519.9 L227.0,516.3 L224.8,507.5 L225.9,500.8 L223.7,494.2 L221.5,487.6Z" fill="#ffcb00" stroke="#6f5f18" stroke-opacity="0.85" stroke-width="1.25" stroke-linejoin="round"/>
<path d="M292.6,531.4 L294.7,535.0 L300.7,537.5 L304.9,539.9 L305.9,543.3 L302.5,544.9 L301.9,549.1 L304.9,552.4 L308.4,555.7 L310.1,559.0 L309.3,561.5 L312.7,564.0 L313.5,566.5 L309.3,565.6 L304.9,568.9 L299.9,573.9 L295.5,579.7 L293.0,586.3 L293.9,593.0 L296.5,598.0 L292.1,600.4 L290.0,599.3 L287.9,592.1 L283.6,587.2 L277.6,583.0 L270.8,578.0 L268.5,565.0 L269.8,549.7 L261.5,546.4 L263.1,543.0 L267.3,537.2 L277.6,533.9 L286.2,530.6 L292.6,531.4Z" fill="#ffcb00" stroke="#6f5f18" stroke-opacity="0.85" stroke-width="1.25" stroke-linejoin="round"/>
<path d="M242.8,543.1 L261.5,546.4 L269.8,549.7 L268.5,565.0 L270.8,578.0 L277.6,583.0 L283.6,587.2 L287.9,592.1 L290.0,599.3 L287.9,598.0 L279.4,594.6 L270.8,593.0 L258.0,590.5 L246.0,587.0 L241.1,584.5 L232.8,569.6 L222.9,559.7 L230.3,554.7 L236.1,549.7 L242.8,543.1Z" fill="#ffcb00" stroke="#6f5f18" stroke-opacity="0.85" stroke-width="1.25" stroke-linejoin="round"/>
<path d="M305.6,445 L305.9,438.8" stroke="#3a4a66" stroke-width="1.6"/>
<path d="M333.5,438.6 L341.5,439.4" stroke="#3a4a66" stroke-width="1.6"/>
</g>
<text transform="translate(438.70,473.45) scale(0.9,1)" text-anchor="middle" font-family="Liberation Sans" font-weight="700" font-size="13.8" fill="#1e0e08" stroke="#1e0e08" stroke-width="0.25">C</text>
<text transform="translate(437.80,501.65) scale(0.9,1)" text-anchor="middle" font-family="Liberation Sans" font-weight="700" font-size="13.8" fill="#1e0e08" stroke="#1e0e08" stroke-width="0.25">D</text>
<text transform="translate(523.50,476.85) scale(0.9,1)" text-anchor="middle" font-family="Liberation Sans" font-weight="700" font-size="13.8" fill="#1e0e08" stroke="#1e0e08" stroke-width="0.25">B</text>
<text transform="translate(510.60,530.35) scale(0.9,1)" text-anchor="middle" font-family="Liberation Sans" font-weight="700" font-size="13.8" fill="#1e0e08" stroke="#1e0e08" stroke-width="0.25">E</text>
<text transform="translate(572.70,511.15) scale(0.9,1)" text-anchor="middle" font-family="Liberation Sans" font-weight="700" font-size="13.8" fill="#1e0e08" stroke="#1e0e08" stroke-width="0.25">H</text>
<text transform="translate(622.00,460.55) scale(0.9,1)" text-anchor="middle" font-family="Liberation Sans" font-weight="700" font-size="13.8" fill="#1e0e08" stroke="#1e0e08" stroke-width="0.25">A</text>
<text transform="translate(612.10,489.75) scale(0.9,1)" text-anchor="middle" font-family="Liberation Sans" font-weight="700" font-size="13.8" fill="#1e0e08" stroke="#1e0e08" stroke-width="0.25">I</text>
<text transform="translate(571.40,575.35) scale(0.9,1)" text-anchor="middle" font-family="Liberation Sans" font-weight="700" font-size="13.8" fill="#1e0e08" stroke="#1e0e08" stroke-width="0.25">F</text>
<text transform="translate(609.10,567.65) scale(0.9,1)" text-anchor="middle" font-family="Liberation Sans" font-weight="700" font-size="13.8" fill="#1e0e08" stroke="#1e0e08" stroke-width="0.25">G</text>
<g transform="translate(62.8,291.9)"><rect x="0.5" y="0.5" width="15.4" height="15.4" fill="#fff" stroke="#d8a8a8" stroke-width="1.1"/> <path d="M3.2,6.8 C2.4,5 3.6,3.8 5,4.2 C5.6,2.4 8.2,2 9.2,3.4 C10.4,2.6 12.6,3.2 12.8,4.8 C14.2,5 14.4,6.8 13,7 Z" fill="#eceef0" stroke="#262626" stroke-width="1.0"/> <path d="M5,6.3 L4.3,11 M8.3,6 L7.3,11.9 M10.9,6 L10.3,9.5" stroke="#1e1e1e" stroke-width="1.3" stroke-linecap="round"/></g>
<g transform="translate(378.9,292.3)"><rect x="0.5" y="0.5" width="15.4" height="15.4" fill="#fff" stroke="#d8a8a8" stroke-width="1.1"/> <path d="M3.2,6.8 C2.4,5 3.6,3.8 5,4.2 C5.6,2.4 8.2,2 9.2,3.4 C10.4,2.6 12.6,3.2 12.8,4.8 C14.2,5 14.4,6.8 13,7 Z" fill="#eceef0" stroke="#262626" stroke-width="1.0"/> <path d="M5,6.3 L4.3,11 M8.3,6 L7.3,11.9 M10.9,6 L10.3,9.5" stroke="#1e1e1e" stroke-width="1.3" stroke-linecap="round"/></g>
<circle cx="77.4" cy="334.6" r="13.3" fill="#f0101a" stroke="#d00a12" stroke-width="0.6"/>
<path d="M74.60,327.6 Q77.40,326.6 80.20,327.6 L78.80,337.0 L76.00,337.0 Z" fill="#fff"/>
<circle cx="77.4" cy="340.2" r="2.1" fill="#fff"/>
<circle cx="394.1" cy="334.6" r="13.3" fill="#f0101a" stroke="#d00a12" stroke-width="0.6"/>
<path d="M391.30,327.6 Q394.10,326.6 396.90,327.6 L395.50,337.0 L392.70,337.0 Z" fill="#fff"/>
<circle cx="394.1" cy="340.2" r="2.1" fill="#fff"/>
</svg>
<div class="a" style="left:50.90px;top:180.10px;width:306.20px;height:178.00px;border:1.2px solid #666;box-sizing:border-box;"></div>
<div class="a" style="left:366.80px;top:180.10px;width:306.50px;height:177.90px;border:1.2px solid #666;box-sizing:border-box;"></div>
<div class="a" style="left:50.90px;top:429.50px;width:306.00px;height:178.30px;border:1.2px solid #666;box-sizing:border-box;"></div>
<div class="a" style="left:367.00px;top:429.50px;width:306.10px;height:178.30px;border:1.2px solid #666;box-sizing:border-box;"></div>
<div class="t" style="left:89.80px;top:302.58px;font-size:7.70px;line-height:7.70px;color:#1a1a1a;font-weight:700;transform:scaleX(0.9366);">ROVESCI O TEMPORALI</div>
<div class="t" style="left:97.80px;top:326.33px;font-size:8.11px;line-height:8.11px;color:#d42a32;font-weight:700;transform:scaleX(0.8967);">CONDI-METEO AVVERSE</div>
<div class="t" style="left:97.80px;top:335.51px;font-size:7.90px;line-height:7.90px;color:#2a2a2a;font-weight:400;transform:scaleX(0.9055);">leggere testo a pag. seguente</div>
<div class="t" style="left:404.80px;top:302.58px;font-size:7.70px;line-height:7.70px;color:#1a1a1a;font-weight:700;transform:scaleX(0.9366);">ROVESCI O TEMPORALI</div>
<div class="t" style="left:413.80px;top:326.33px;font-size:8.11px;line-height:8.11px;color:#d42a32;font-weight:700;transform:scaleX(0.8967);">CONDI-METEO AVVERSE</div>
<div class="t" style="left:413.80px;top:335.51px;font-size:7.90px;line-height:7.90px;color:#2a2a2a;font-weight:400;transform:scaleX(0.9055);">leggere testo a pag. seguente</div>
<div class="t" style="left:66.20px;top:363.84px;font-size:8.22px;line-height:8.22px;color:#222;font-weight:700;transform:scaleX(0.7998);">EOLIE: ZONA A - USTICA, EGADI: ZONA C - PANTELLERIA: ZONA D - PELAGIE: ZONA E</div>
<div class="t" style="left:66.20px;top:612.24px;font-size:8.22px;line-height:8.22px;color:#222;font-weight:700;transform:scaleX(0.7998);">EOLIE: ZONA A - USTICA, EGADI: ZONA C - PANTELLERIA: ZONA D - PELAGIE: ZONA E</div>
<div class="t" style="left:382.40px;top:363.84px;font-size:8.22px;line-height:8.22px;color:#222;font-weight:700;transform:scaleX(0.7998);">EOLIE: ZONA A - USTICA, EGADI: ZONA C - PANTELLERIA: ZONA D - PELAGIE: ZONA E</div>
<div class="t" style="left:382.40px;top:612.24px;font-size:8.22px;line-height:8.22px;color:#222;font-weight:700;transform:scaleX(0.7998);">EOLIE: ZONA A - USTICA, EGADI: ZONA C - PANTELLERIA: ZONA D - PELAGIE: ZONA E</div>
<div class="a" style="left:63.30px;top:647.60px;width:98.10px;height:61.90px;background:#d9d9d9;"></div>
<div class="a" style="left:161.40px;top:647.60px;width:241.10px;height:25.50px;background:#d9d9d9;"></div>
<div class="a" style="left:415.00px;top:647.60px;width:245.50px;height:25.50px;background:#d9d9d9;"></div>
<div class="a" style="left:161.40px;top:673.10px;width:61.50px;height:36.40px;background:#92d050;"></div>
<div class="a" style="left:415.00px;top:673.10px;width:61.50px;height:36.40px;background:#92d050;"></div>
<div class="a" style="left:222.90px;top:673.10px;width:61.60px;height:36.40px;background:#ffff00;"></div>
<div class="a" style="left:476.50px;top:673.10px;width:61.20px;height:36.40px;background:#ffff00;"></div>
<div class="a" style="left:284.50px;top:673.10px;width:59.80px;height:36.40px;background:#ffc000;"></div>
<div class="a" style="left:537.70px;top:673.10px;width:61.50px;height:36.40px;background:#ffc000;"></div>
<div class="a" style="left:344.30px;top:673.10px;width:58.20px;height:36.40px;background:#ff0000;"></div>
<div class="a" style="left:599.20px;top:673.10px;width:61.30px;height:36.40px;background:#ff0000;"></div>
<div class="a" style="left:63.00px;top:647.00px;width:340.00px;height:1.00px;background:#474747;"></div>
<div class="a" style="left:63.00px;top:709.00px;width:340.00px;height:1.00px;background:#474747;"></div>
<div class="a" style="left:63.00px;top:754.00px;width:340.00px;height:1.00px;background:#474747;"></div>
<div class="a" style="left:63.00px;top:798.00px;width:340.00px;height:1.00px;background:#474747;"></div>
<div class="a" style="left:63.00px;top:842.00px;width:340.00px;height:1.00px;background:#474747;"></div>
<div class="a" style="left:161.00px;top:673.00px;width:242.00px;height:1.00px;background:#474747;"></div>
<div class="a" style="left:63.00px;top:647.00px;width:1.00px;height:272.00px;background:#474747;"></div>
<div class="a" style="left:161.00px;top:647.00px;width:1.00px;height:195.00px;background:#474747;"></div>
<div class="a" style="left:402.00px;top:647.00px;width:1.00px;height:195.00px;background:#474747;"></div>
<div class="a" style="left:222.00px;top:673.00px;width:1.00px;height:169.00px;background:#474747;"></div>
<div class="a" style="left:284.00px;top:673.00px;width:1.00px;height:169.00px;background:#474747;"></div>
<div class="a" style="left:344.00px;top:673.00px;width:1.00px;height:169.00px;background:#474747;"></div>
<div class="a" style="left:414.00px;top:647.00px;width:247.00px;height:1.00px;background:#474747;"></div>
<div class="a" style="left:414.00px;top:673.00px;width:247.00px;height:1.00px;background:#474747;"></div>
<div class="a" style="left:414.00px;top:709.00px;width:247.00px;height:1.00px;background:#474747;"></div>
<div class="a" style="left:414.00px;top:754.00px;width:247.00px;height:1.00px;background:#474747;"></div>
<div class="a" style="left:414.00px;top:798.00px;width:247.00px;height:1.00px;background:#474747;"></div>
<div class="a" style="left:414.00px;top:842.00px;width:247.00px;height:1.00px;background:#474747;"></div>
<div class="a" style="left:414.00px;top:647.00px;width:1.00px;height:195.00px;background:#474747;"></div>
<div class="a" style="left:660.00px;top:647.00px;width:1.00px;height:272.00px;background:#474747;"></div>
<div class="a" style="left:476.00px;top:673.00px;width:1.00px;height:169.00px;background:#474747;"></div>
<div class="a" style="left:537.00px;top:673.00px;width:1.00px;height:169.00px;background:#474747;"></div>
<div class="a" style="left:599.00px;top:673.00px;width:1.00px;height:169.00px;background:#474747;"></div>
<div class="a" style="left:63.00px;top:882.00px;width:598.00px;height:1.00px;background:#474747;"></div>
<div class="a" style="left:63.00px;top:918.00px;width:598.00px;height:1.00px;background:#474747;"></div>
<div class="a" style="left:100.00px;top:882.00px;width:1.00px;height:37.00px;background:#474747;"></div>
<div class="t" style="left:80.80px;top:673.62px;font-size:8.94px;line-height:8.94px;color:#2a3342;font-weight:700;transform:scaleX(0.8910);">TIPO DI RISCHIO</div>
<div class="t" style="left:204.20px;top:650.62px;font-size:8.94px;line-height:8.94px;color:#b81c28;font-weight:700;transform:scaleX(0.9021);">LIVELLI DI ALLERTA E FASI OPERATIVE</div>
<div class="t" style="left:262.90px;top:660.62px;font-size:8.94px;line-height:8.94px;color:#b81c28;font-weight:700;transform:scaleX(0.8863);">PER OGGI</div>
<div class="t" style="left:461.40px;top:650.62px;font-size:8.94px;line-height:8.94px;color:#b81c28;font-weight:700;transform:scaleX(0.8998);">LIVELLI DI ALLERTA E FASI OPERATIVE</div>
<div class="t" style="left:513.00px;top:661.42px;font-size:8.94px;line-height:8.94px;color:#b81c28;font-weight:700;transform:scaleX(0.8820);">PER DOMANI</div>
<div class="t" style="left:180.01px;top:677.27px;font-size:6.76px;line-height:6.76px;color:#1f3a12;font-weight:700;">VERDE</div>
<div class="t" style="left:174.31px;top:691.37px;font-size:6.76px;line-height:6.76px;color:#1f3a12;font-weight:700;">GENERICA</div>
<div class="t" style="left:173.94px;top:698.57px;font-size:6.76px;line-height:6.76px;color:#1f3a12;font-weight:700;">VIGILANZA</div>
<div class="t" style="left:241.12px;top:680.27px;font-size:6.76px;line-height:6.76px;color:#2a2a10;font-weight:700;">GIALLA</div>
<div class="t" style="left:232.36px;top:697.27px;font-size:6.76px;line-height:6.76px;color:#2a2a10;font-weight:700;">ATTENZIONE</div>
<div class="t" style="left:293.93px;top:680.27px;font-size:6.76px;line-height:6.76px;color:#3a2a00;font-weight:700;">ARANCIONE</div>
<div class="t" style="left:290.93px;top:697.27px;font-size:6.76px;line-height:6.76px;color:#3a2a00;font-weight:700;">PREALLARME</div>
<div class="t" style="left:361.38px;top:680.27px;font-size:6.76px;line-height:6.76px;color:#8a0c0c;font-weight:700;">ROSSA</div>
<div class="t" style="left:356.88px;top:697.27px;font-size:6.76px;line-height:6.76px;color:#8a0c0c;font-weight:700;">ALLARME</div>
<div class="t" style="left:434.11px;top:677.27px;font-size:6.76px;line-height:6.76px;color:#1f3a12;font-weight:700;">VERDE</div>
<div class="t" style="left:427.91px;top:691.37px;font-size:6.76px;line-height:6.76px;color:#1f3a12;font-weight:700;">GENERICA</div>
<div class="t" style="left:427.54px;top:698.57px;font-size:6.76px;line-height:6.76px;color:#1f3a12;font-weight:700;">VIGILANZA</div>
<div class="t" style="left:494.02px;top:680.27px;font-size:6.76px;line-height:6.76px;color:#2a2a10;font-weight:700;">GIALLA</div>
<div class="t" style="left:485.76px;top:697.27px;font-size:6.76px;line-height:6.76px;color:#2a2a10;font-weight:700;">ATTENZIONE</div>
<div class="t" style="left:547.98px;top:680.27px;font-size:6.76px;line-height:6.76px;color:#3a2a00;font-weight:700;">ARANCIONE</div>
<div class="t" style="left:544.98px;top:697.27px;font-size:6.76px;line-height:6.76px;color:#3a2a00;font-weight:700;">PREALLARME</div>
<div class="t" style="left:617.83px;top:680.27px;font-size:6.76px;line-height:6.76px;color:#8a0c0c;font-weight:700;">ROSSA</div>
<div class="t" style="left:613.83px;top:697.27px;font-size:6.76px;line-height:6.76px;color:#8a0c0c;font-weight:700;">ALLARME</div>
<div class="t" style="left:70.40px;top:719.72px;font-size:8.94px;line-height:8.94px;color:#2a3342;font-weight:700;transform:scaleX(0.9736);">IDROGEOLOGICO E</div>
<div class="t" style="left:82.80px;top:734.72px;font-size:8.94px;line-height:8.94px;color:#2a3342;font-weight:700;transform:scaleX(0.9581);">IDRAULICO</div>
<div class="t" style="left:134.70px;top:731.36px;font-size:6.66px;line-height:6.66px;color:#2a3342;font-weight:400;transform:scaleX(0.8975);">(1)</div>
<div class="t" style="left:70.40px;top:759.42px;font-size:8.94px;line-height:8.94px;color:#2a3342;font-weight:700;transform:scaleX(0.9736);">IDROGEOLOGICO E</div>
<div class="t" style="left:78.20px;top:769.52px;font-size:8.94px;line-height:8.94px;color:#2a3342;font-weight:700;transform:scaleX(0.9637);">IDRAULICO PER</div>
<div class="t" style="left:81.50px;top:784.62px;font-size:8.94px;line-height:8.94px;color:#2a3342;font-weight:700;transform:scaleX(0.9588);">TEMPORALI</div>
<div class="t" style="left:136.00px;top:779.56px;font-size:6.66px;line-height:6.66px;color:#2a3342;font-weight:400;transform:scaleX(0.8975);">(2)</div>
<div class="t" style="left:82.80px;top:816.72px;font-size:8.94px;line-height:8.94px;color:#2a3342;font-weight:700;transform:scaleX(0.9581);">IDRAULICO</div>
<div class="t" style="left:134.70px;top:813.16px;font-size:6.66px;line-height:6.66px;color:#2a3342;font-weight:400;transform:scaleX(0.8975);">(3)</div>
<div class="t" style="left:294.90px;top:773.22px;font-size:8.94px;line-height:8.94px;color:#2a3342;font-weight:700;transform:scaleX(0.9764);">B, C, D, E</div>
<div class="t" style="left:350.80px;top:773.22px;font-size:8.94px;line-height:8.94px;color:#2a3342;font-weight:700;transform:scaleX(0.9847);">A, F, G, H, I</div>
<div class="t" style="left:294.90px;top:816.52px;font-size:8.94px;line-height:8.94px;color:#2a3342;font-weight:700;transform:scaleX(0.9764);">B, C, D, E</div>
<div class="t" style="left:350.80px;top:816.52px;font-size:8.94px;line-height:8.94px;color:#2a3342;font-weight:700;transform:scaleX(0.9847);">A, F, G, H, I</div>
<div class="t" style="left:542.60px;top:765.62px;font-size:8.94px;line-height:8.94px;color:#2a3342;font-weight:700;transform:scaleX(0.9927);">B, C, D, E, F,</div>
<div class="t" style="left:560.00px;top:778.22px;font-size:8.94px;line-height:8.94px;color:#2a3342;font-weight:700;transform:scaleX(0.9462);">G, H</div>
<div class="t" style="left:623.80px;top:772.42px;font-size:8.94px;line-height:8.94px;color:#2a3342;font-weight:700;transform:scaleX(0.9054);">A, I</div>
<div class="t" style="left:542.60px;top:810.22px;font-size:8.94px;line-height:8.94px;color:#2a3342;font-weight:700;transform:scaleX(0.9927);">B, C, D, E, F,</div>
<div class="t" style="left:560.00px;top:820.82px;font-size:8.94px;line-height:8.94px;color:#2a3342;font-weight:700;transform:scaleX(0.9462);">G, H</div>
<div class="t" style="left:623.80px;top:815.52px;font-size:8.94px;line-height:8.94px;color:#2a3342;font-weight:700;transform:scaleX(0.9054);">A, I</div>
<div class="t" style="left:65.80px;top:847.55px;font-size:8.32px;line-height:8.32px;color:#333;font-weight:400;transform:scaleX(0.9584);">(1) Le possibili criticità idrauliche sono riferite ai bacini minori (&lt; 50 kmq) e alle aree urbanizzate</div>
<div class="t" style="left:65.80px;top:857.95px;font-size:8.32px;line-height:8.32px;color:#333;font-weight:400;transform:scaleX(0.9600);">(2) Come sopra, con forzante Meteo</div>
<div class="t" style="left:65.80px;top:867.95px;font-size:8.32px;line-height:8.32px;color:#333;font-weight:400;transform:scaleX(0.9584);">(3) Condizioni diffuse di possibile criticità idraulica nei bacini maggiori (&gt; 50 kmq)</div>
<div class="a" style="left:480.60px;top:848.30px;width:178.40px;height:30.90px;background:#c8c8c8;filter:blur(1px);"></div>
<div class="a" style="left:479.10px;top:846.50px;width:178.10px;height:30.70px;background:#fff;border:1px solid #d6d6d6;box-sizing:border-box;"></div>
<div class="t" style="left:505.20px;top:852.52px;font-size:8.94px;line-height:8.94px;color:#24324a;font-weight:700;transform:scaleX(0.9471);">VEDI DISPOSIZIONI GENERALI</div>
<div class="t" style="left:537.10px;top:865.42px;font-size:8.94px;line-height:8.94px;color:#24324a;font-weight:700;transform:scaleX(0.9203);">E AVVERTENZE</div>
<div class="t" style="left:68.10px;top:894.73px;font-size:10.71px;line-height:10.71px;color:#1e2838;font-weight:700;transform:scaleX(0.9308);">NOTE</div>
<div class="t" style="left:102.20px;top:891.84px;font-size:8.22px;line-height:8.22px;color:#d1262c;font-weight:700;transform:scaleX(0.9758);">IN CASO DI ROVESCI O TEMPORALI, PRESTARE PARTICOLARE ATTENZIONE AI DEFLUSSI NELLE AREE URBANE E NEI LUOGHI</div>
<div class="t" style="left:102.70px;top:901.84px;font-size:8.22px;line-height:8.22px;color:#d1262c;font-weight:700;transform:scaleX(0.9737);">FREQUENTATI DALL&#x27;UOMO ANCHE IN PROSSIMITA&#x27; DEI CORSI D&#x27;ACQUA</div>
<div class="a" style="left:63.40px;top:928.30px;width:376.30px;height:42.90px;background:#d9d9d9;"></div>
<div class="a" style="left:439.70px;top:928.30px;width:220.10px;height:42.90px;background:#ff0000;"></div>
<div class="t" style="left:65.70px;top:939.19px;font-size:10.40px;line-height:10.40px;color:#111;font-weight:700;transform:scaleX(1.0069);">FASI OPERATIVE ATTIVATE</div>
<div class="t" style="left:65.20px;top:951.19px;font-size:10.40px;line-height:10.40px;color:#111;font-weight:700;transform:scaleX(0.9780);">PER IL DRPC-SICILIA</div>
<div class="t" style="left:286.60px;top:934.38px;font-size:10.30px;line-height:10.30px;color:#111;font-weight:700;transform:scaleX(0.9054);">PER OGGI:</div>
<div class="t" style="left:286.60px;top:956.18px;font-size:10.30px;line-height:10.30px;color:#111;font-weight:700;transform:scaleX(0.9031);">PER DOMANI:</div>
<div class="t" style="left:370.00px;top:933.64px;font-size:9.98px;line-height:9.98px;color:#111;font-weight:700;transform:scaleX(0.9226);">24/10/2021</div>
<div class="t" style="left:370.00px;top:956.44px;font-size:9.98px;line-height:9.98px;color:#111;font-weight:700;transform:scaleX(0.9226);">25/10/2021</div>
<div class="t" style="left:519.00px;top:932.40px;font-size:13.94px;line-height:13.94px;color:#6e0e0e;font-weight:700;transform:scaleX(0.9175);-webkit-text-stroke:0.3px #6e0e0e;">ALLARME</div>
<div class="t" style="left:519.00px;top:953.50px;font-size:13.94px;line-height:13.94px;color:#6e0e0e;font-weight:700;transform:scaleX(0.9175);-webkit-text-stroke:0.3px #6e0e0e;">ALLARME</div>
<div class="t" style="left:334.10px;top:980.88px;font-size:7.70px;line-height:7.70px;color:#333;font-weight:400;font-style:italic;transform:scaleX(0.9592);">SEGUE AVVISO</div>
<div class="t" style="left:43.50px;top:1004.87px;font-size:7.59px;line-height:7.59px;color:#333;font-weight:400;transform:scaleX(0.9715);">CFD-Idro - Avviso Regionale di protezione civile per il rischio meteo-idrogeologico e idraulico</div>
<div class="t" style="left:661.00px;top:1004.97px;font-size:7.59px;line-height:7.59px;color:#333;font-weight:400;transform:scaleX(0.9759);">pag. 1 di 3</div>
<svg class="a" style="left:0;top:0" width="724" height="60" viewBox="0 0 724 60">
<defs><clipPath id="sh"><path d="M51.4,24.2 H73.7 V42.8 Q73.7,47.6 68.9,47.6 H56.2 Q51.4,47.6 51.4,42.8 Z"/></clipPath></defs>
<g clip-path="url(#sh)">
<rect x="50" y="22" width="26" height="27" fill="#f5e02a"/>
<path d="M50,22 L76,22 L76,47 L73,49 Z" fill="#dc4a2c"/>
</g>
<path d="M51.4,24.2 H73.7 V42.8 Q73.7,47.6 68.9,47.6 H56.2 Q51.4,47.6 51.4,42.8 Z" fill="none" stroke="#a07a28" stroke-width="0.9"/>
<g stroke="#3a3430" stroke-width="1.2" stroke-linecap="round" stroke-linejoin="round" fill="none" opacity="0.9">
<path d="M62.5,35.5 L57.5,37.5 L55.8,40.5 M62.5,35.5 L66.8,39 L67,42 M62.5,35.5 L63.5,30.5 L66.5,28.5"/>
</g>
<circle cx="62.5" cy="35.3" r="3.1" fill="#e8e0c8" stroke="#3a3430" stroke-width="0.9"/>
<path d="M59.5,32 L57.5,30.5 M65.5,32 L67.8,31.2 M62.5,38.4 L62.2,40.8" stroke="#6a6a50" stroke-width="0.8"/>
<circle cx="92.1" cy="35.2" r="11.6" fill="none" stroke="#9a9a9a" stroke-width="1.1" stroke-dasharray="0.8 1.0" opacity="0.9"/>
<path d="M92.2,28.5 L92.8,34.8" stroke="#c03838" stroke-width="2.4" stroke-linecap="round"/>
<path d="M92.8,34.8 L86.2,40.2" stroke="#3f7a4a" stroke-width="2.4" stroke-linecap="round"/>
<path d="M92.8,34.8 L99,39.8" stroke="#7a7a7a" stroke-width="2.2" stroke-linecap="round"/>
<circle cx="660.9" cy="36" r="11.2" fill="#1f3270"/>
<circle cx="660.9" cy="36" r="9.2" fill="#3658a4"/>
<circle cx="660.9" cy="36" r="7.6" fill="none" stroke="#7e9ad0" stroke-width="0.6"/>
<path d="M656.3,40.4 L661.3,31 L666.3,40.4 Z" fill="#e8e090"/>
<path d="M659,35.6 L661.3,31 L663.6,35.6 Z" fill="#d84a2a"/>
<path d="M656.3,40.4 L666.3,40.4 L665.5,39 L657.1,39 Z" fill="#5aa050"/>
</svg>
</body></html>
